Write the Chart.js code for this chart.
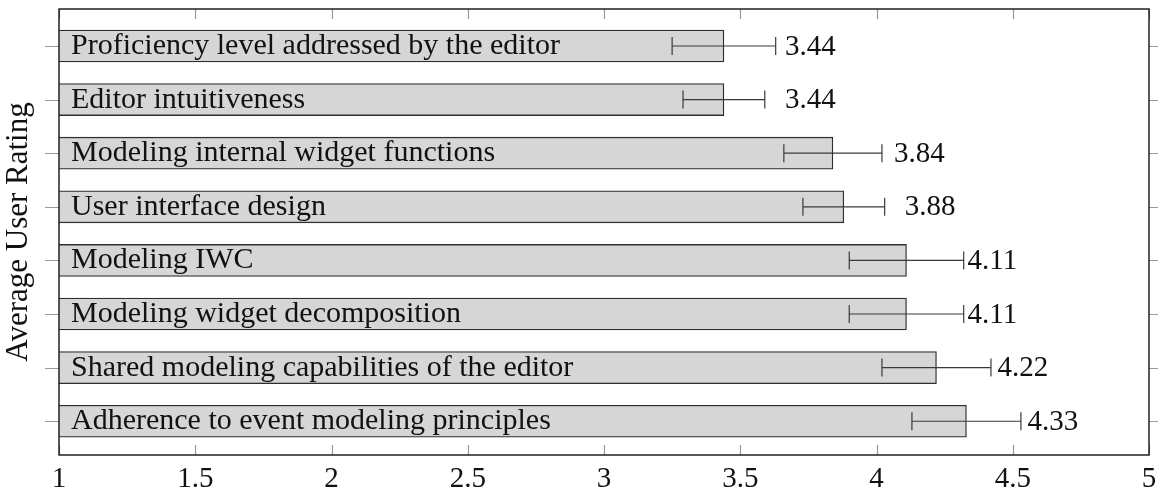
<!DOCTYPE html>
<html>
<head>
<meta charset="utf-8">
<script src="https://cdn.jsdelivr.net/npm/chart.js@4.4.1/dist/chart.umd.min.js"></script>
<style>
  html, body { margin: 0; padding: 0; background: #ffffff; }
  #wrap { width: 1158px; height: 492px; }
</style>
</head>
<body>
<div id="wrap"><canvas id="c"></canvas></div>
<script>
// Survey items, top to bottom
const categories = [
  'Proficiency level addressed by the editor',
  'Editor intuitiveness',
  'Modeling internal widget functions',
  'User interface design',
  'Modeling IWC',
  'Modeling widget decomposition',
  'Shared modeling capabilities of the editor',
  'Adherence to event modeling principles'
];
// Mean rating per item and the half-width of its error bar
const ratings = [3.44, 3.44, 3.84, 3.88, 4.11, 4.11, 4.22, 4.33];
const errors  = [0.19, 0.15, 0.18, 0.15, 0.21, 0.21, 0.20, 0.20];
// Rating axis ticks
const xTicks = [1, 1.5, 2, 2.5, 3, 3.5, 4, 4.5, 5];

const SERIF = "'Liberation Serif', 'Times New Roman', serif";
Chart.defaults.font.family = SERIF;
Chart.defaults.color = '#000';

// Frame, tick marks, in-bar item names, error bars and value labels
const decorations = {
  id: 'decorations',
  afterDatasetsDraw(chart) {
    const { ctx, chartArea: a, scales: { x, y } } = chart;
    const meta = chart.getDatasetMeta(0);
    ctx.save();

    // item names inside the bars
    ctx.font = '30px ' + SERIF;
    ctx.fillStyle = '#111';
    ctx.textAlign = 'left';
    ctx.textBaseline = 'alphabetic';
    meta.data.forEach((bar, i) => {
      ctx.fillText(categories[i], a.left + 12, bar.y + 8);
    });

    // error bars
    ctx.strokeStyle = '#3a3a3a';
    ctx.lineWidth = 1.2;
    meta.data.forEach((bar, i) => {
      const lo = x.getPixelForValue(ratings[i] - errors[i]);
      const hi = x.getPixelForValue(ratings[i] + errors[i]);
      const cy = bar.y;
      ctx.beginPath();
      ctx.moveTo(lo, cy); ctx.lineTo(hi, cy);
      ctx.moveTo(lo, cy - 9); ctx.lineTo(lo, cy + 9);
      ctx.moveTo(hi, cy - 9); ctx.lineTo(hi, cy + 9);
      ctx.stroke();
    });

    // value labels
    ctx.font = '29px ' + SERIF;
    ctx.fillStyle = '#111';
    ctx.textBaseline = 'middle';
    meta.data.forEach((bar, i) => {
      ctx.fillText(ratings[i].toFixed(2), x.getPixelForValue(ratings[i]) + 61, bar.y + 1);
    });

    // tick marks
    ctx.strokeStyle = '#9a9a9a';
    ctx.lineWidth = 1.2;
    ctx.beginPath();
    xTicks.forEach(v => {
      const px = Math.round(x.getPixelForValue(v)) + 0.5;
      ctx.moveTo(px, a.top); ctx.lineTo(px, a.top + 10);
      ctx.moveTo(px, a.bottom); ctx.lineTo(px, a.bottom - 10);
    });
    categories.forEach((c, i) => {
      const py = Math.round(y.getPixelForValue(i)) + 0.5;
      ctx.moveTo(a.left - 14, py); ctx.lineTo(a.left, py);
      ctx.moveTo(a.right, py); ctx.lineTo(a.right + 10, py);
    });
    ctx.stroke();

    // frame
    ctx.strokeStyle = '#222';
    ctx.lineWidth = 1.5;
    ctx.strokeRect(a.left, a.top, a.right - a.left, a.bottom - a.top);
    ctx.restore();
  }
};

new Chart(document.getElementById('c'), {
  type: 'bar',
  data: {
    datasets: [{
      data: ratings.map((v, i) => ({ x: v, y: i })),
      backgroundColor: '#d6d6d6',
      borderColor: '#2e2e2e',
      borderWidth: 1.3,
      borderSkipped: false,
      barThickness: 32
    }]
  },
  options: {
    indexAxis: 'y',
    responsive: true,
    maintainAspectRatio: false,
    animation: false,
    events: [],
    layout: { padding: { top: 9, right: 9, left: 0, bottom: 0 } },
    plugins: { legend: { display: false }, tooltip: { enabled: false } },
    scales: {
      x: {
        type: 'linear',
        position: 'bottom',
        min: 1, max: 5,
        offset: false,
        afterBuildTicks: s => { s.ticks = xTicks.map(v => ({ value: v })); },
        ticks: { font: { size: 29 }, padding: 7, maxRotation: 0, color: '#111',
                 callback: v => String(v) },
        grid: { display: false, drawTicks: false, offset: false },
        border: { display: false },
        afterFit: s => { s.height = 37; s.paddingLeft = 0; s.paddingRight = 0; }
      },
      y: {
        type: 'linear',
        reverse: true,
        offset: false,
        min: -0.69, max: 7.63,
        ticks: { display: false },
        grid: { display: false, drawTicks: false, offset: false },
        border: { display: false },
        title: { display: true, text: 'Average User Rating', font: { size: 31 }, color: '#111', padding: { top: 0, bottom: 0 } },
        afterFit: s => { s.width = 59; s.paddingTop = 0; s.paddingBottom = 0; }
      }
    }
  },
  plugins: [decorations]
});
</script>
</body>
</html>
